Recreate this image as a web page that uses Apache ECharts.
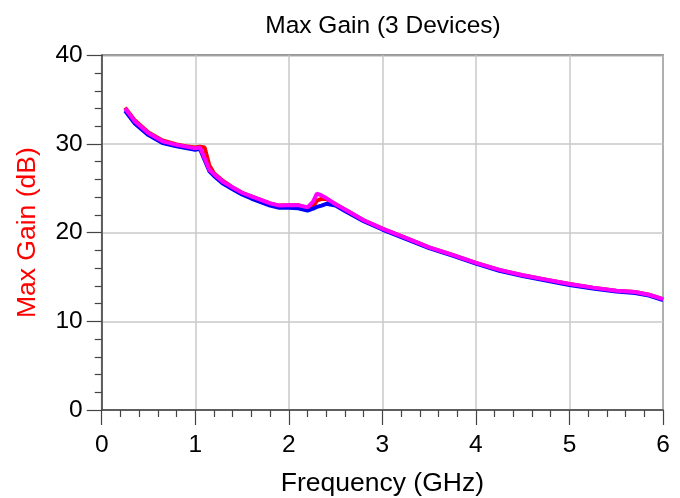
<!DOCTYPE html>
<html>
<head>
<meta charset="utf-8">
<script src="https://cdn.jsdelivr.net/npm/echarts@6/dist/echarts.min.js"></script>
<style>html,body{margin:0;padding:0;background:#fff}#c{width:680px;height:498px}</style>
</head>
<body>
<div id="c"></div>
<script>
var freq = [0.25,0.35,0.5,0.65,0.8,0.9,1.0,1.05,1.1,1.15,1.2,1.3,1.4,1.5,1.6,1.7,1.8,1.9,2.0,2.1,2.2,2.26,2.3,2.35,2.4,2.5,2.6,2.8,3.0,3.25,3.5,3.75,4.0,4.25,4.5,4.75,5.0,5.25,5.5,5.7,5.85,6.0];
var gainRed = [34.1,32.7,31.3,30.4,29.95,29.75,29.6,29.7,29.6,27.6,26.7,25.8,25.1,24.5,24.1,23.7,23.3,23.05,23.1,23.1,22.8,23.0,23.6,23.8,23.8,23.2,22.6,21.4,20.45,19.4,18.35,17.5,16.6,15.8,15.2,14.7,14.2,13.8,13.45,13.3,13.0,12.5];
var gainBlue = [33.75,32.35,31.0,30.1,29.75,29.55,29.35,29.45,28.2,26.95,26.4,25.5,24.9,24.3,23.85,23.45,23.05,22.8,22.8,22.75,22.5,22.7,22.9,23.05,23.25,23.05,22.45,21.3,20.35,19.3,18.25,17.4,16.5,15.7,15.1,14.6,14.1,13.7,13.35,13.2,12.9,12.4];
var gainMagenta = [34.0,32.6,31.2,30.3,29.9,29.7,29.5,29.6,28.4,27.1,26.6,25.7,25.1,24.5,24.1,23.7,23.3,23.05,23.1,23.1,22.85,23.5,24.4,24.2,23.9,23.2,22.6,21.4,20.45,19.4,18.35,17.5,16.6,15.8,15.2,14.7,14.2,13.8,13.45,13.3,13.0,12.5];
var xTicks = [0,1,2,3,4,5,6];
var yTicks = [0,10,20,30,40];

function pairs(ys){ return freq.map(function(f,i){ return [f, ys[i]]; }); }
var FONT = '"Liberation Sans", Arial, Helvetica, sans-serif';
var chart = echarts.init(document.getElementById('c'), null, {renderer:'canvas'});
function ser(name, color, data){
  return {name:name, type:'line', data:pairs(data), showSymbol:false, symbol:'none',
    lineStyle:{color:color, width:4}, itemStyle:{color:color}, animation:false, z:3};
}
chart.setOption({
  animation:false,
  title:{text:'Max Gain (3 Devices)', left:378, top:9, textAlign:'center',
    textStyle:{fontFamily:FONT, fontSize:24.5, fontWeight:'normal', color:'#000'}},
  grid:{left:101.7, right:17, top:55.3, bottom:88, show:true, borderColor:'#333', borderWidth:1.5,
    backgroundColor:'transparent', containLabel:false, outerBoundsMode:'none'},
  xAxis:{type:'value', min:xTicks[0], max:xTicks[xTicks.length-1], interval:1,
    name:'Frequency (GHz)', nameLocation:'middle', nameGap:60,
    nameTextStyle:{fontFamily:FONT, fontSize:26.5, color:'#000'},
    axisLine:{show:true, onZero:false, lineStyle:{color:'#444', width:1.5}},
    axisTick:{show:true, inside:false, length:15, lineStyle:{color:'#444', width:1.2}},
    minorTick:{show:true, splitNumber:5, length:7, lineStyle:{color:'#444', width:1.2}},
    axisLabel:{fontFamily:FONT, fontSize:24.5, color:'#000', margin:23},
    splitLine:{show:true, lineStyle:{color:'#c8c8c8', width:1.5}}},
  yAxis:{type:'value', min:yTicks[0], max:yTicks[yTicks.length-1], interval:10,
    name:'Max Gain (dB)', nameLocation:'middle', nameGap:61, nameRotate:90,
    nameTextStyle:{fontFamily:FONT, fontSize:26.5, color:'#ff0000'},
    axisLine:{show:true, onZero:false, lineStyle:{color:'#444', width:1.5}},
    axisTick:{show:true, inside:false, length:15, lineStyle:{color:'#444', width:1.2}},
    minorTick:{show:true, splitNumber:5, length:7, lineStyle:{color:'#444', width:1.2}},
    axisLabel:{fontFamily:FONT, fontSize:24.5, color:'#000', margin:19},
    splitLine:{show:true, lineStyle:{color:'#c8c8c8', width:1.5}}},
  series:[
    ser('Device 1','#ff0000',gainRed),
    ser('Device 2','#0000ff',gainBlue),
    ser('Device 3','#ff00ff',gainMagenta)
  ]
});
</script>
</body>
</html>
